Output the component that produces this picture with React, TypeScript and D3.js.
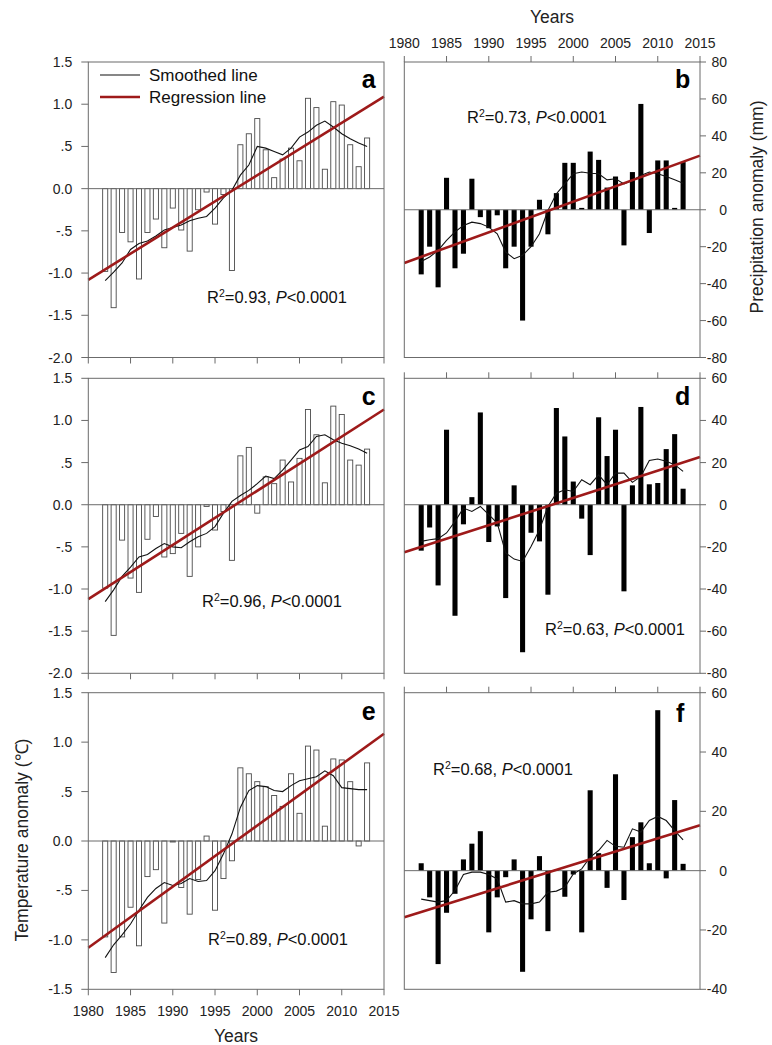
import React from "react";
import * as d3 from "d3";

const FONT = "Arial, 'Liberation Sans', Helvetica, sans-serif";

const years = [1982,1983,1984,1985,1986,1987,1988,1989,1990,1991,1992,1993,1994,1995,1996,1997,1998,1999,2000,2001,2002,2003,2004,2005,2006,2007,2008,2009,2010,2011,2012,2013];
const xTicks = [1980,1985,1990,1995,2000,2005,2010,2015];
const regYears = [1980, 2015];

const tempA = [-0.98,-1.41,-0.52,-0.63,-1.07,-0.52,-0.36,-0.70,-0.23,-0.49,-0.74,-0.25,-0.04,-0.42,-0.07,-0.97,0.52,0.65,0.83,0.46,0.13,0.35,0.48,0.33,1.07,0.96,0.23,1.03,0.99,0.52,0.26,0.60];
const smoothA = [-1.09,-0.99,-0.88,-0.72,-0.65,-0.62,-0.56,-0.49,-0.46,-0.43,-0.38,-0.35,-0.33,-0.23,-0.11,-0.02,0.16,0.28,0.50,0.48,0.44,0.40,0.48,0.61,0.67,0.75,0.80,0.73,0.65,0.59,0.54,0.50];
const regA = [-1.08, 1.09];

const precB = [-35,-20,-42,17.3,-31.7,-23.8,16.8,-4,-10,-3,-31.7,-20,-60,-20,5.4,-13.3,9,25.4,25.4,1,31.5,27,12,18,-19.3,20.4,57.3,-12.6,26.7,26.7,1,25.8];
const smoothB = [-28,-25.6,-22,-16.6,-12,-8.5,-6.7,-7.5,-9.4,-13,-22.9,-26.5,-24.7,-20,-13,-0.4,8.6,14,19.5,20.4,19.8,19.5,16.2,16.8,14,15.9,18.6,20.4,19.5,18,16.2,14.4];
const regB = [-28.8, 29.3];

const tempC = [-0.99,-1.55,-0.42,-0.87,-1.04,-0.41,-0.14,-0.62,-0.58,-0.34,-0.85,-0.50,-0.02,-0.30,-0.08,-0.66,0.58,0.68,-0.10,0.33,0.25,0.53,0.27,0.55,1.13,0.83,0.26,1.17,1.07,0.53,0.47,0.66];
const smoothC = [-1.15,-1.01,-0.85,-0.74,-0.62,-0.59,-0.52,-0.46,-0.50,-0.51,-0.44,-0.38,-0.34,-0.26,-0.10,0.04,0.11,0.17,0.25,0.34,0.31,0.41,0.53,0.65,0.69,0.81,0.83,0.77,0.73,0.70,0.66,0.61];
const regC = [-1.12, 1.13];

const precD = [-21.8,-10.8,-38.3,35.6,-52.7,-9.3,3.6,43.8,-17.7,-10.3,-44.3,9.2,-70,-13.3,-17.4,-42.7,45.9,32.4,11,-6.6,-23.9,41.5,23.1,35.6,-41.1,9.2,46.4,9.7,10.3,26.4,33.5,7.6];
const smoothD = [-17.4,-16.6,-16.1,-13.4,-7.9,-1.6,-3.2,-0.8,-4.7,-8.7,-22.9,-25.8,-26.9,-19.8,-11.9,-0.8,5.5,7.1,6.3,11.9,9.5,14.2,9.5,15.0,15.0,10.6,13.4,21.0,21.7,20.6,19.0,15.8];
const regD = [-22.6, 22.6];

const tempE = [-0.97,-1.33,-0.97,-0.67,-1.06,-0.36,-0.29,-0.83,-0.01,-0.47,-0.74,-0.39,0.05,-0.70,-0.38,-0.20,0.74,0.68,0.60,0.55,0.46,0.35,0.68,0.28,0.96,0.92,0.15,0.83,0.82,0.60,-0.05,0.79];
const smoothE = [-1.18,-1.05,-0.95,-0.84,-0.70,-0.57,-0.48,-0.42,-0.45,-0.43,-0.38,-0.41,-0.40,-0.30,-0.13,0.07,0.34,0.51,0.56,0.55,0.51,0.50,0.56,0.61,0.63,0.65,0.71,0.66,0.54,0.53,0.52,0.52];
const regE = [-1.08, 1.085];

const precF = [2.5,-9,-31.5,-14.2,-7.8,3.8,9.1,13.3,-20.8,-9,-2.2,3.8,-34.1,-16.4,4.9,-20.4,0.3,-8.8,-1.3,-20.8,27.1,5.9,-5.8,32.5,-9.9,11.3,16.3,2.5,54.1,-2.6,23.8,2.3];
const smoothF = [-9.6,-10.1,-10.6,-10.1,-6.7,-1.3,-0.5,-0.5,-1.3,-2.8,-10.6,-10.1,-11.2,-11.2,-10.6,-7.3,-6.9,-5.6,-1.1,0.6,4.6,6.8,10.2,8.2,7.9,14.1,13.0,16.9,18.3,16.9,13.5,10.4];
const regF = [-15.7, 15.3];

const tempTicksAC = [1.5,1.0,0.5,0,-0.5,-1.0,-1.5,-2.0];
const tempTicksE = [1.5,1.0,0.5,0,-0.5,-1.0,-1.5];
const precTicksB = [80,60,40,20,0,-20,-40,-60,-80];
const precTicksD = [60,40,20,0,-20,-40,-60,-80];
const precTicksF = [60,40,20,0,-20,-40];

const FRAME = "#6b6b6b";
const RED = "#9e1a1a";

function fmtTemp(v: number) {
  if (v === 0) return "0.0";
  const s = v.toFixed(1);
  if (Math.abs(v) < 1) return s.replace("0.", ".");
  return s;
}

type Cfg = {
  left: number; right: number; top: number; bottom: number;
  domain: [number, number]; ticks: number[]; side: "left" | "right";
  bars: number[]; smooth: number[]; reg: number[]; filled: boolean;
  letter: string; letterX: number; letterY: number;
  r2: string; r2x: number; r2y: number;
  topTicks?: boolean; topLabels?: boolean; bottomTicks?: boolean; bottomLabels?: boolean;
  fmt: (v: number) => string;
};

function Panel({ c }: { c: Cfg }) {
  const x = d3.scaleLinear().domain([1980, 2015]).range([c.left, c.right]);
  const y = d3.scaleLinear().domain(c.domain).range([c.bottom, c.top]);
  const step = x(1981) - x(1980);
  const bw = step * 0.6;
  const line = d3.line<[number, number]>().x(d => x(d[0])).y(d => y(d[1]));
  const smoothPts: [number, number][] = years.map((yr, i) => [yr, c.smooth[i]]);
  const regPts: [number, number][] = regYears.map((yr, i) => [yr, c.reg[i]]);
  const y0 = y(0);
  return (
    <g>
      {years.map((yr, i) => {
        const v = c.bars[i];
        const yt = Math.min(y(v), y0);
        const h = Math.abs(y(v) - y0);
        return (
          <rect key={yr} x={x(yr) - bw / 2} y={yt} width={bw} height={h}
            fill={c.filled ? "#000" : "#fff"} stroke={c.filled ? "none" : "#4a4a4a"} strokeWidth={0.9} />
        );
      })}
      <line x1={c.left} x2={c.right} y1={y0} y2={y0} stroke={FRAME} strokeWidth={1} />
      <path d={line(smoothPts) || ""} fill="none" stroke="#111" strokeWidth={1.1} />
      <path d={line(regPts) || ""} fill="none" stroke={RED} strokeWidth={2.6} />
      <rect x={c.left} y={c.top} width={c.right - c.left} height={c.bottom - c.top} fill="none" stroke={FRAME} strokeWidth={1} />
      {c.ticks.map(t => {
        const ty = y(t);
        if (c.side === "left") {
          return (
            <g key={t}>
              <line x1={c.left - 7} x2={c.left} y1={ty} y2={ty} stroke={FRAME} />
              <text x={c.left - 16} y={ty} dy="0.36em" textAnchor="end" fontSize={14} fill="#222">{c.fmt(t)}</text>
            </g>
          );
        }
        return (
          <g key={t}>
            <line x1={c.right} x2={c.right + 6} y1={ty} y2={ty} stroke={FRAME} />
            <text x={c.right + 27} y={ty} dy="0.36em" textAnchor="end" fontSize={14} fill="#222">{c.fmt(t)}</text>
          </g>
        );
      })}
      {c.topTicks && xTicks.map(t => (
        <g key={"tt" + t}>
          <line x1={x(t)} x2={x(t)} y1={c.top - 6} y2={c.top} stroke={FRAME} />
          {c.topLabels && <text x={x(t)} y={c.top - 14} textAnchor="middle" fontSize={14} fill="#222">{t}</text>}
        </g>
      ))}
      {c.bottomTicks && xTicks.map(t => (
        <g key={"bt" + t}>
          <line x1={x(t)} x2={x(t)} y1={c.bottom} y2={c.bottom + 6} stroke={FRAME} />
          {c.bottomLabels && <text x={x(t)} y={c.bottom + 27} textAnchor="middle" fontSize={14} fill="#222">{t}</text>}
        </g>
      ))}
      <text x={c.letterX} y={c.letterY} fontSize={25} fontWeight="bold" fill="#000">{c.letter}</text>
      <text x={c.r2x} y={c.r2y} fontSize={16.5} fill="#111">
        R<tspan dy={-6} fontSize={10.5}>2</tspan><tspan dy={6}>{"=" + c.r2 + ", "}</tspan><tspan fontStyle="italic">P</tspan><tspan>{"<0.0001"}</tspan>
      </text>
    </g>
  );
}

const L = { left: 88.3, right: 384 };
const R = { left: 404.3, right: 700 };
const ROW1 = { top: 62, bottom: 357.5 };
const ROW2 = { top: 378.3, bottom: 673.3 };
const ROW3 = { top: 692.7, bottom: 989.3 };

const panels: Cfg[] = [
  { ...L, ...ROW1, domain: [-2, 1.5], ticks: tempTicksAC, side: "left", bars: tempA, smooth: smoothA, reg: regA, filled: false,
    letter: "a", letterX: 361.7, letterY: 88, r2: "0.93", r2x: 207, r2y: 303, bottomTicks: true, fmt: fmtTemp },
  { ...R, ...ROW1, domain: [-80, 80], ticks: precTicksB, side: "right", bars: precB, smooth: smoothB, reg: regB, filled: true,
    letter: "b", letterX: 675, letterY: 88, r2: "0.73", r2x: 467, r2y: 123, topTicks: true, topLabels: true, fmt: v => String(v) },
  { ...L, ...ROW2, domain: [-2, 1.5], ticks: tempTicksAC, side: "left", bars: tempC, smooth: smoothC, reg: regC, filled: false,
    letter: "c", letterX: 361.7, letterY: 405, r2: "0.96", r2x: 202, r2y: 607, bottomTicks: true, fmt: fmtTemp },
  { ...R, ...ROW2, domain: [-80, 60], ticks: precTicksD, side: "right", bars: precD, smooth: smoothD, reg: regD, filled: true,
    letter: "d", letterX: 675, letterY: 405, r2: "0.63", r2x: 545, r2y: 635, topTicks: true, fmt: v => String(v) },
  { ...L, ...ROW3, domain: [-1.5, 1.5], ticks: tempTicksE, side: "left", bars: tempE, smooth: smoothE, reg: regE, filled: false,
    letter: "e", letterX: 361.7, letterY: 720, r2: "0.89", r2x: 208, r2y: 945, bottomTicks: true, bottomLabels: true, fmt: fmtTemp },
  { ...R, ...ROW3, domain: [-40, 60], ticks: precTicksF, side: "right", bars: precF, smooth: smoothF, reg: regF, filled: true,
    letter: "f", letterX: 676, letterY: 722, r2: "0.68", r2x: 433, r2y: 775, topTicks: true, fmt: v => String(v) },
];

export default function App() {
  return (
    <svg width={772} height={1045} viewBox="0 0 772 1045"
      style={{ position: "absolute", left: 0, top: 0, background: "#fff" }} fontFamily={FONT}>
      <rect x={0} y={0} width={772} height={1045} fill="#fff" />
      {panels.map((p, i) => <Panel key={i} c={p} />)}
      {/* legend in panel a */}
      <line x1={100} x2={140} y1={75} y2={75} stroke="#111" strokeWidth={1.1} />
      <text x={149} y={81} fontSize={17} fill="#111">Smoothed line</text>
      <line x1={100} x2={140} y1={97} y2={97} stroke={RED} strokeWidth={2.6} />
      <text x={149} y={103} fontSize={17} fill="#111">Regression line</text>
      {/* axis titles */}
      <text x={552} y={23} textAnchor="middle" fontSize={17.5} fill="#222">Years</text>
      <text x={236} y={1042} textAnchor="middle" fontSize={17.5} fill="#222">Years</text>
      <text transform="translate(22,840) rotate(-90)" textAnchor="middle" dy="0.35em" fontSize={17.5} fill="#222">Temperature anomaly (℃)</text>
      <text transform="translate(756.7,207) rotate(-90)" textAnchor="middle" dy="0.35em" fontSize={17.5} fill="#222">Precipitation anomaly (mm)</text>
    </svg>
  );
}
